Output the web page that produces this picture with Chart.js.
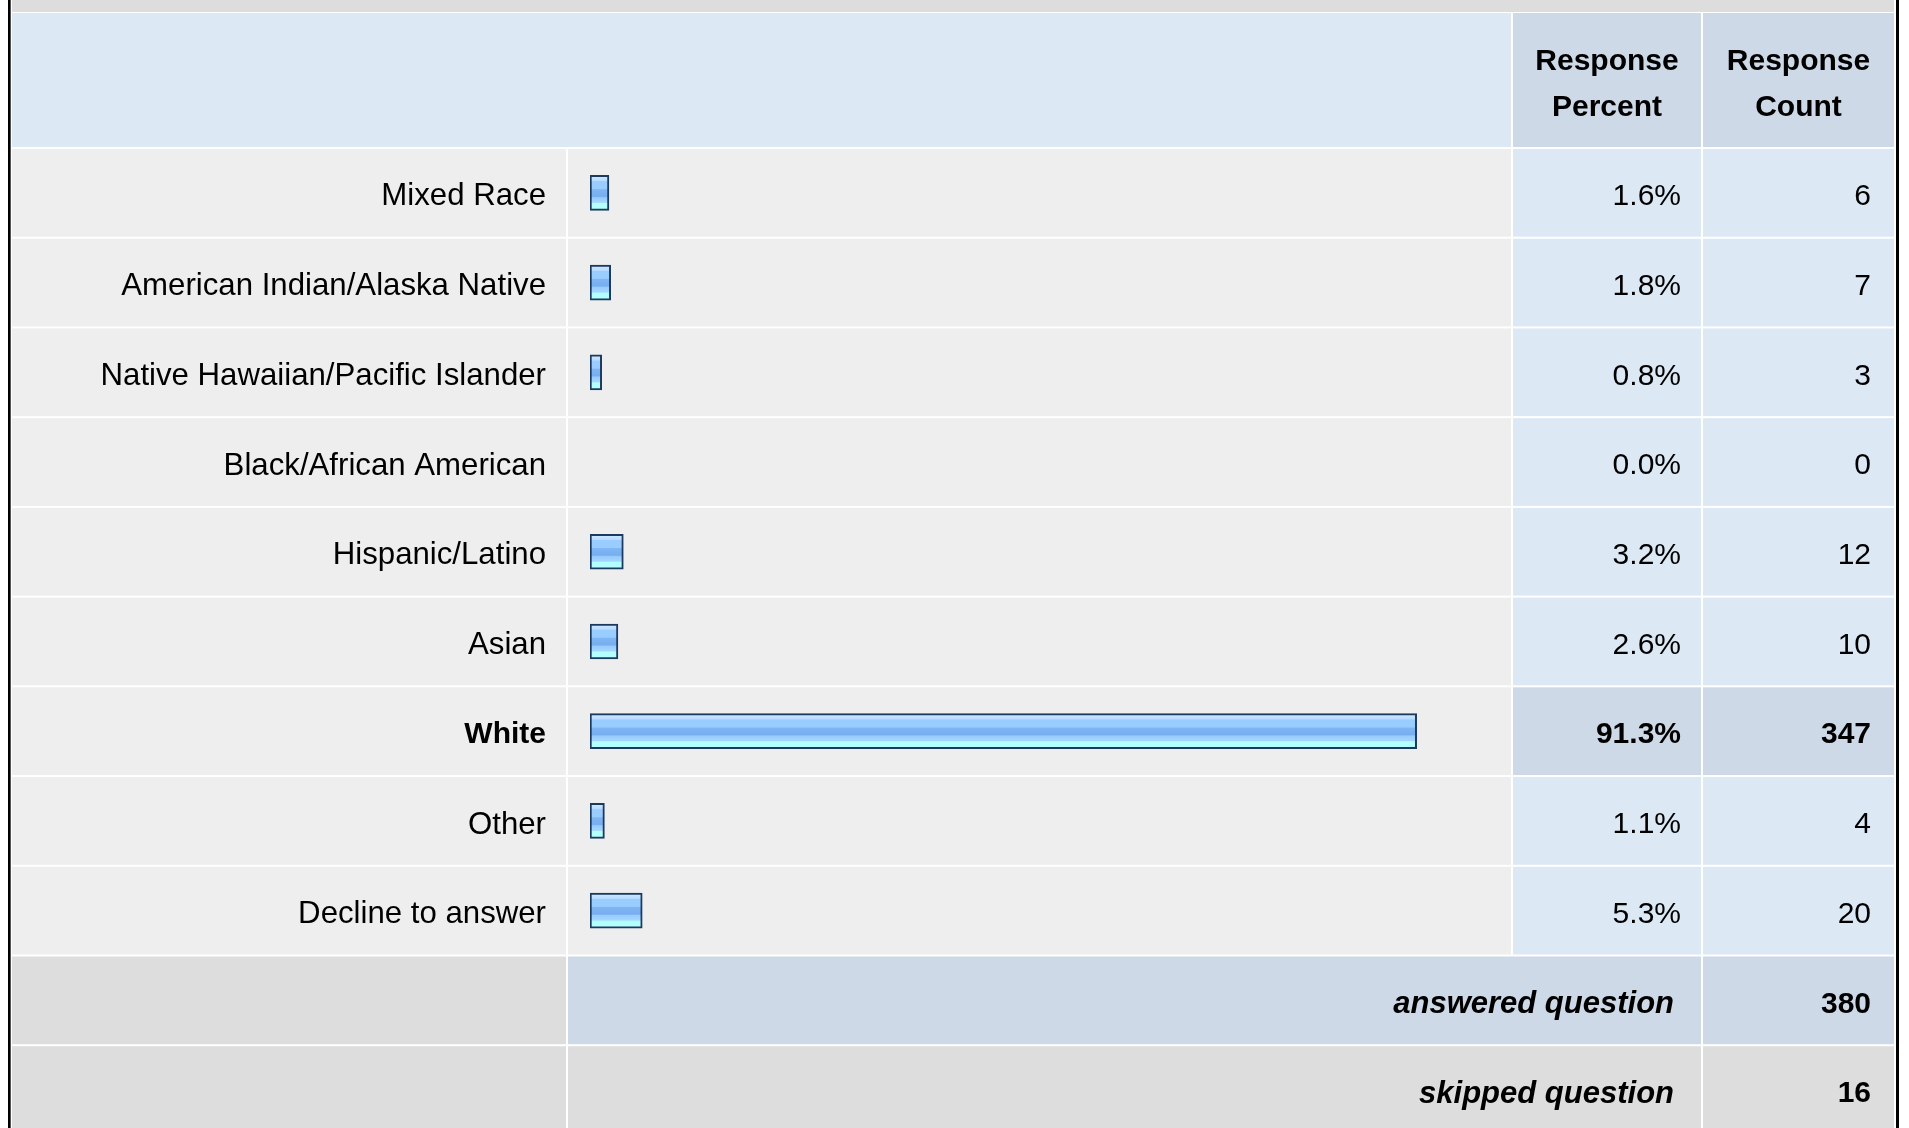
<!DOCTYPE html>
<html>
<head>
<meta charset="utf-8">
<script src="https://cdn.jsdelivr.net/npm/chart.js@4.4.0/dist/chart.umd.min.js"></script>
<style>
  html, body { margin: 0; padding: 0; background: #fff; }
  canvas { display: block; }
</style>
</head>
<body>
<canvas id="chart" width="1909" height="1128"></canvas>
<script>
  const categories = ['Mixed Race', 'American Indian/Alaska Native', 'Native Hawaiian/Pacific Islander',
    'Black/African American', 'Hispanic/Latino', 'Asian', 'White', 'Other', 'Decline to answer'];
  const percents = [1.6, 1.8, 0.8, 0.0, 3.2, 2.6, 91.3, 1.1, 5.3];
  const counts = [6, 7, 3, 0, 12, 10, 347, 4, 20];
  const headerPercent = ['Response', 'Percent'];
  const headerCount = ['Response', 'Count'];
  const footerLabels = ['answered question', 'skipped question'];
  const footerCounts = [380, 16];

  const FONT = "'Liberation Sans', Arial, Helvetica, sans-serif";
  const ROW_BG = '#eeeeee';
  const HEAD_BG = '#dde8f5';
  const HEAD_DARK = '#cdd9e6';
  const FOOT_BG = '#dddddd';
  const X_MIN = -0.5;
  const TEXT_DROP = 4;

  // column edges (white gaps sit on these lines)
  const COLS = [11, 567, 1512, 1702, 1895];

  var topIndex = counts.indexOf(Math.max.apply(null, counts));

  function cell(c, x0, x1, top, bottom, color) {
    c.fillStyle = color;
    c.fillRect(x0 + 1, top + 1, x1 - x0 - 2, bottom - top - 2);
  }

  function text(c, str, x, y, align, font) {
    c.font = font;
    c.textAlign = align;
    c.textBaseline = 'middle';
    c.fillStyle = '#000';
    c.fillText(str, x, y);
  }

  // light-blue banded fill for each bar
  function barFill(context) {
    const chart = context.chart;
    const yScale = chart.scales.y;
    if (context.type !== 'data' || !yScale) return '#99ccff';
    if (!(context.raw > 0)) return 'rgba(0,0,0,0)';
    const mid = yScale.getPixelForValue(context.dataIndex);
    if (!isFinite(mid)) return '#99ccff';
    const g = chart.ctx.createLinearGradient(0, mid - 17.5, 0, mid + 17.5);
    g.addColorStop(0.0, '#d2e9ff');
    g.addColorStop(0.15, '#b8dcff');
    g.addColorStop(0.18, '#99ccff');
    g.addColorStop(0.38, '#99ccff');
    g.addColorStop(0.41, '#7fb5f3');
    g.addColorStop(0.60, '#77aeef');
    g.addColorStop(0.64, '#99ccff');
    g.addColorStop(0.77, '#a3d6ff');
    g.addColorStop(0.80, '#b3ffff');
    g.addColorStop(1.0, '#b3ffff');
    return g;
  }

  const tablePlugin = {
    id: 'surveyTable',
    beforeDraw(chart) {
      const c = chart.ctx;
      const y = chart.scales.y;
      const H = chart.height;
      const rowH = y.getPixelForValue(1) - y.getPixelForValue(0);
      c.save();

      // outer frame
      c.fillStyle = '#000';
      c.fillRect(8, 0, 2, H);
      c.fillStyle = '#555';
      c.fillRect(10, 0, 1, H);
      c.fillStyle = '#000';
      c.fillRect(1896, 0, 3, H);

      // top strip
      c.fillStyle = FOOT_BG;
      c.fillRect(12, 0, 1882, 12);

      // header row
      const headTop = 12, headBottom = y.getPixelForValue(0) - rowH / 2;
      cell(c, COLS[0], COLS[2], headTop, headBottom, HEAD_BG);
      cell(c, COLS[2], COLS[3], headTop, headBottom, HEAD_DARK);
      cell(c, COLS[3], COLS[4], headTop, headBottom, HEAD_DARK);
      const pctMid = (COLS[2] + COLS[3]) / 2, cntMid = (COLS[3] + COLS[4]) / 2;
      const bold = 'bold 30px ' + FONT;
      text(c, headerPercent[0], pctMid, 62, 'center', bold);
      text(c, headerPercent[1], pctMid, 108, 'center', bold);
      text(c, headerCount[0], cntMid, 62, 'center', bold);
      text(c, headerCount[1], cntMid, 108, 'center', bold);

      // answer rows
      for (let i = 0; i < categories.length; i++) {
        const mid = y.getPixelForValue(i);
        const top = mid - rowH / 2, bottom = mid + rowH / 2;
        const side = i === topIndex ? HEAD_DARK : HEAD_BG;
        cell(c, COLS[0], COLS[1], top, bottom, ROW_BG);
        cell(c, COLS[1], COLS[2], top, bottom, ROW_BG);
        cell(c, COLS[2], COLS[3], top, bottom, side);
        cell(c, COLS[3], COLS[4], top, bottom, side);
        const f = (i === topIndex ? 'bold ' : '') + '30px ' + FONT;
        text(c, percents[i].toFixed(1) + '%', 1681, mid + TEXT_DROP, 'right', f);
        text(c, String(counts[i]), 1871, mid + TEXT_DROP, 'right', f);
      }

      // totals
      for (let k = 0; k < footerLabels.length; k++) {
        const mid = y.getPixelForValue(categories.length + k);
        const top = mid - rowH / 2, bottom = mid + rowH / 2;
        const fill = k === 0 ? HEAD_DARK : FOOT_BG;
        cell(c, COLS[0], COLS[1], top, bottom, FOOT_BG);
        cell(c, COLS[1], COLS[3], top, bottom, fill);
        cell(c, COLS[3], COLS[4], top, bottom, fill);
        text(c, footerLabels[k], 1674, mid + TEXT_DROP, 'right', 'italic bold 31px ' + FONT);
        text(c, String(footerCounts[k]), 1871, mid + TEXT_DROP, 'right', 'bold 30px ' + FONT);
      }
      c.restore();
    }
  };

  Chart.defaults.color = '#000';

  new Chart(document.getElementById('chart'), {
    type: 'bar',
    data: {
      labels: categories,
      datasets: [{
        data: percents,
        base: X_MIN,
        barThickness: 35,
        borderSkipped: false,
        borderColor: '#1b3a5e',
        borderWidth: function(ctx) { return ctx.raw > 0 ? 2 : 0; },
        backgroundColor: barFill
      }]
    },
    options: {
      indexAxis: 'y',
      responsive: false,
      animation: false,
      devicePixelRatio: 1,
      events: [],
      layout: { padding: { left: 12, top: 148, right: 414, bottom: 172.5 } },
      plugins: { legend: { display: false }, tooltip: { enabled: false } },
      scales: {
        x: { type: 'linear', min: X_MIN, max: 100, display: false },
        y: {
          grid: { display: false, drawTicks: false },
          border: { display: false },
          afterFit: function(scale) { scale.width = 578; },
          ticks: {
            autoSkip: false,
            padding: 44,
            labelOffset: TEXT_DROP,
            color: '#000',
            font: function(ctx) {
              return ctx.index === topIndex
                ? { family: FONT, size: 30, weight: 'bold' }
                : { family: FONT, size: 31.2, weight: 'normal' };
            }
          }
        }
      }
    },
    plugins: [tablePlugin]
  });
</script>
</body>
</html>
